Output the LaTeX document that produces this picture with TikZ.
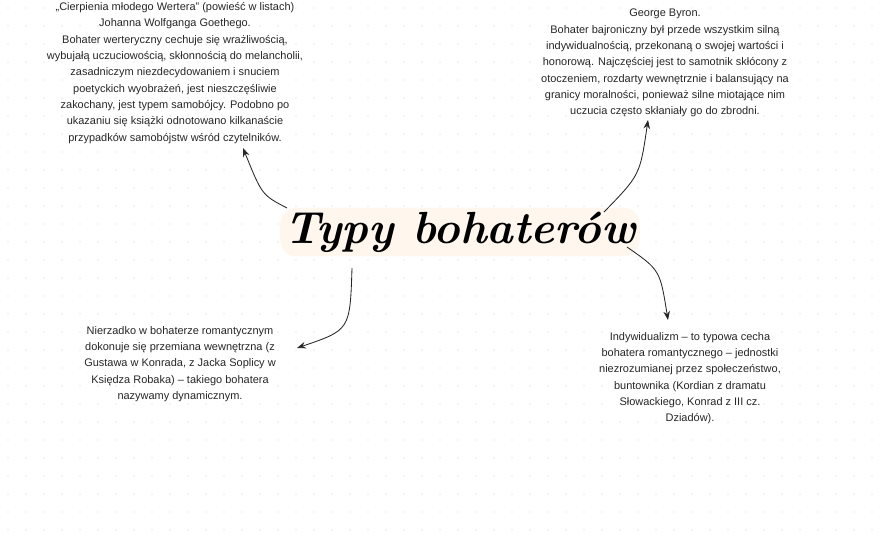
\documentclass[tikz,border=0pt]{standalone}
\usepackage{fontspec}
\newfontfamily\notefont{Liberation Sans}
\usetikzlibrary{arrows.meta,positioning}

\begin{document}
\begin{tikzpicture}[
    x=0.025cm, y=-0.025cm,
    % Define styles
    note/.style={align=center, font=\notefont\fontsize{7.8}{11.6}\selectfont, text=black!85, inner sep=1pt},
    title/.style={font=\fontsize{32}{34}\selectfont\bfseries\itshape, fill=orange!7, rounded corners=12pt, inner sep=3pt},
    arrow/.style={-{Stealth[scale=1.1]}, semithick, black!85},
    griddot/.style={fill=gray!35}
]
\useasboundingbox (0,0) rectangle (880,540);

% Dot grid
\foreach \i in {0,...,48} {
  \foreach \j in {0,...,29} {
    \fill[griddot] (\i*18+8,\j*18+8) circle (0.5pt);
  }
}

% Title
\node[title] (title) at (460,232) {Typy bohaterów};

% Notes
\node[note] (wert) at (175,73) {„Cierpienia młodego Wertera” (powieść w listach)\\Johanna Wolfganga Goethego.\\Bohater werteryczny cechuje się wrażliwością,\\wybujałą uczuciowością, skłonnością do melancholii,\\zasadniczym niezdecydowaniem i snuciem\\poetyckich wyobrażeń, jest nieszczęśliwie\\zakochany, jest typem samobójcy. Podobno po\\ukazaniu się książki odnotowano kilkanaście\\przypadków samobójstw wśród czytelników.};
\node[note] (byron) at (665,63) {George Byron.\\Bohater bajroniczny był przede wszystkim silną\\indywidualnością, przekonaną o swojej wartości i\\honorową. Najczęściej jest to samotnik skłócony z\\otoczeniem, rozdarty wewnętrznie i balansujący na\\granicy moralności, ponieważ silne miotające nim\\uczucia często skłaniały go do zbrodni.};
\node[note] (dyn) at (180,364) {Nierzadko w bohaterze romantycznym\\dokonuje się przemiana wewnętrzna (z\\Gustawa w Konrada, z Jacka Soplicy w\\Księdza Robaka) – takiego bohatera\\nazywamy dynamicznym.};
\node[note] (indyw) at (690,378) {Indywidualizm – to typowa cecha\\bohatera romantycznego – jednostki\\niezrozumianej przez społeczeństwo,\\buntownika (Kordian z dramatu\\Słowackiego, Konrad z III cz.\\Dziadów).};

% Arrow ends
\coordinate (wertEnd) at (243,148);
\coordinate (byronEnd) at (648,120);
\coordinate (dynEnd) at (297,348);
\coordinate (indywEnd) at (668,320);

% Connections
\draw[arrow] (287,208) .. controls (262,195) .. (wertEnd);
\draw[arrow] (604,212) .. controls (640,175) .. (byronEnd);
\draw[arrow] (352,268) .. controls (350,330) .. (dynEnd);
\draw[arrow] (627,247) .. controls (660,270) .. (indywEnd);
\end{tikzpicture}
\end{document}
